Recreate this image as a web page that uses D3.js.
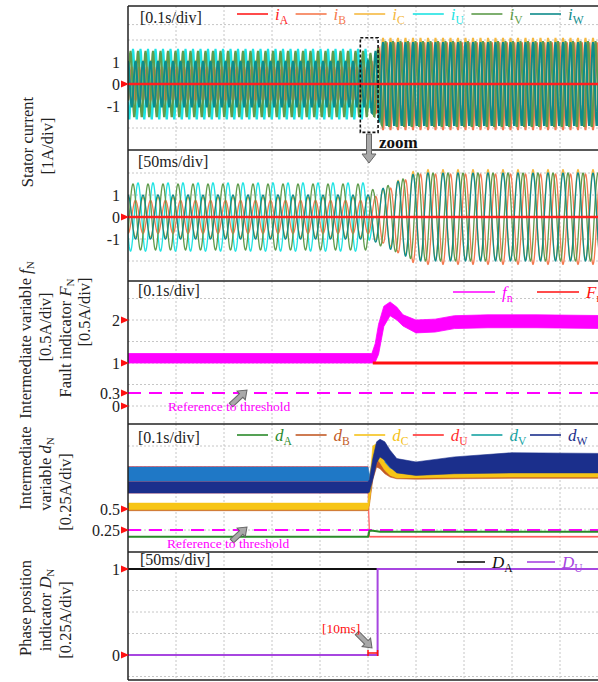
<!DOCTYPE html>
<html>
<head>
<meta charset="utf-8">
<script src="https://cdn.jsdelivr.net/npm/d3@7"></script>
<style>
  body { margin: 0; background: #fff; }
  svg { display: block; font-family: "Liberation Serif", "DejaVu Serif", serif; }
  .grid line { stroke: #c6c6c6; stroke-dasharray: 2,2; stroke-width: 1; }
  .ticks text { font-size: 16px; fill: #222; font-family: "Liberation Serif", serif; }
  .ticks .domain, .ticks line { display: none; }
  .scale-note { font-size: 16px; fill: #222; }
</style>
</head>
<body>
<div id="wrapper"></div>
<script>
// ---- stator currents (i_A ... i_W), overview at 0.1 s/div, zoom at 50 ms/div
const currentNames = ["A", "B", "C", "U", "V", "W"]
const currentColors = ["#ff1f1f", "#f57a4f", "#f5b942", "#1fe3e3", "#5e9c4c", "#0e8b8b"]
const currentPhaseDeg = [0, 180, 0, 120, 240, 0]
const currentOffsetAfter = [0, -0.1, 0.1, 0, 0, 0]
const supplyFreq = 64 // Hz
const drawOrder = [3, 2, 1, 4, 5, 0]

const overviewEnvTime = [0, 0.5, 0.506, 0.52, 0.53, 1.02] // s
const overviewEnvAmp = [
  [0, 0, 0, 0, 0, 0],
  [0.75, 0.75, 0.9, 1.5, 2.0, 2.0],
  [0.95, 0.95, 1.0, 1.5, 2.0, 2.0],
  [1.6, 1.6, 0.1, 0, 0, 0],
  [1.5, 1.5, 1.4, 1.6, 1.95, 1.95],
  [1.05, 1.05, 1.3, 1.6, 1.9, 1.9],
]
const zoomEnvTime = [0, 250, 256, 275, 300, 510] // ms
const zoomEnvAmp = [
  [0, 0, 0, 0, 0, 0],
  [0.75, 0.75, 0.9, 1.4, 2.05, 2.05],
  [0.9, 0.9, 1.0, 1.45, 2.05, 2.05],
  [1.55, 1.55, 0, 0, 0, 0],
  [1.5, 1.5, 1.2, 1.5, 2.0, 2.0],
  [1.0, 1.0, 1.1, 1.5, 2.0, 2.0],
]

// ---- intermediate variable f_n and fault indicator F_n
const fnTime = [0, 0.508, 0.515, 0.522, 0.533, 0.546, 0.56, 0.573, 0.6, 0.64, 0.68, 0.75, 0.85, 1.02]
const fnUpper = [1.22, 1.22, 1.45, 1.9, 2.32, 2.42, 2.3, 2.12, 2.0, 2.02, 2.1, 2.12, 2.12, 2.1]
const fnLower = [1.0, 1.0, 1.02, 1.2, 1.85, 2.1, 2.0, 1.86, 1.7, 1.72, 1.8, 1.82, 1.82, 1.8]
const FnTime = [0.51, 1.02]
const FnValue = [1, 1]
const fnThreshold = 0.3

// ---- intermediate variables d_A ... d_W
const dNames = ["A", "B", "C", "U", "V", "W"]
const dColors = ["#2a8a2a", "#c25a26", "#f5c21a", "#ff3030", "#16a3a3", "#1b2f8c"]
const dBandFill = ["#2a8a2a", "#c25a26", "#f7c516", "#ff4a4a", "#1f78c6", "#1b2f8c"]
const dTime = [0, 0.5, 0.503, 0.51, 0.518, 0.525, 0.535, 0.546, 0.56, 0.6, 0.68, 0.8, 1.02]
const dAValue = [0.17, 0.17, 0.24, 0.24, 0.235, 0.23, 0.23, 0.23, 0.23, 0.23, 0.23, 0.23, 0.23]
const dBUpper = [0.5, 0.5, 0.6, 0.95, 1.1, 1.05, 0.97, 0.92, 0.89, 0.88, 0.88, 0.89, 0.89]
const dBLower = [0.48, 0.48, 0.55, 0.85, 1.0, 0.98, 0.92, 0.88, 0.86, 0.855, 0.86, 0.865, 0.865]
const dCUpper = [0.57, 0.57, 0.8, 1.25, 1.28, 1.2, 1.05, 0.98, 0.95, 0.94, 0.95, 0.96, 0.96]
const dCLower = [0.49, 0.49, 0.56, 0.95, 1.1, 1.05, 0.96, 0.9, 0.87, 0.87, 0.875, 0.88, 0.88]
const dUUpper = [1.005, 1.005, 0.175, 0.175, 0.175, 0.175, 0.175, 0.175, 0.175, 0.175, 0.175, 0.175, 0.175]
const dULower = [0.69, 0.69, 0.165, 0.165, 0.165, 0.165, 0.165, 0.165, 0.165, 0.165, 0.165, 0.165, 0.165]
const dVUpper = [1.0, 1.0, 0.9, 1.1, 1.2, 1.2, 1.15, 1.1, 1.05, 1.02, 1.08, 1.1, 1.1]
const dVLower = [0.83, 0.83, 0.75, 0.9, 1.05, 1.05, 1.0, 0.98, 0.94, 0.93, 0.95, 0.96, 0.96]
const dWUpper = [0.82, 0.82, 0.85, 1.1, 1.3, 1.33, 1.3, 1.2, 1.1, 1.06, 1.12, 1.17, 1.16]
const dWLower = [0.69, 0.69, 0.7, 0.85, 1.05, 1.12, 1.08, 1.0, 0.93, 0.9, 0.92, 0.93, 0.93]
const dThreshold = 0.25

// ---- phase position indicators D_A, D_U (ms)
const DTime = [0, 260, 510]
const DAValue = [1, 1, 1]
const DUValue = [0, 1, 1]
const delayMarkMs = [250, 260]

// ---- tick labels / grid
const ticks1 = [-1, 0, 1], marks1 = [0], grid1 = [-2, -1, 0, 1, 2, 2.7]
const ticks2 = [-1, 0, 1], marks2 = [0], grid2 = [-2, -1, 0, 1, 2]
const ticks3 = [0, 0.3, 1, 2], marks3 = [0, 0.3, 1, 2], grid3 = [0, 0.5, 1, 1.5, 2, 2.5]
const ticks4 = [0.25, 0.5], marks4 = [0.25, 0.5], grid4 = [0.25, 0.5, 0.75, 1, 1.25]
const ticks5 = [0, 1], marks5 = [0, 1], grid5 = [-0.25, 0.25, 0.5, 0.75]

function drawChart() {
  // 2. Dimensions
  const dimensions = { width: 598, height: 682, left: 128, right: 608 }
  const panels = [
    { top: 6, bottom: 150 },
    { top: 150, bottom: 281 },
    { top: 281, bottom: 424 },
    { top: 424, bottom: 552 },
    { top: 552, bottom: 680 },
  ]

  // 3. Canvas
  const svg = d3.select("#wrapper").append("svg")
      .attr("width", dimensions.width)
      .attr("height", dimensions.height)
  const defs = svg.append("defs")
  panels.forEach((p, i) => {
    defs.append("clipPath").attr("id", `clip${i}`)
      .append("rect")
        .attr("x", dimensions.left).attr("y", p.top)
        .attr("width", dimensions.right - dimensions.left).attr("height", p.bottom - p.top)
  })

  // 4. Scales
  const xSec = d3.scaleLinear().domain([0, 1]).range([dimensions.left, dimensions.right])
  const xMs = d3.scaleLinear().domain([0, 500]).range([dimensions.left, dimensions.right])
  const y1 = d3.scaleLinear().domain([-1, 1]).range([106, 62])
  const y2 = d3.scaleLinear().domain([-1, 1]).range([239, 195])
  const y3 = d3.scaleLinear().domain([0, 2]).range([406, 320])
  const y4 = d3.scaleLinear().domain([0.25, 0.5]).range([530, 509])
  const y5 = d3.scaleLinear().domain([0, 1]).range([655, 569])
  const yScales = [y1, y2, y3, y4, y5]
  const grids = [grid1, grid2, grid3, grid4, grid5]

  // grid
  const gridG = svg.append("g").attr("class", "grid")
  panels.forEach((p, i) => {
    gridG.selectAll(null)
      .data(d3.range(1, 10))
      .join("line")
        .attr("x1", d => xSec(d / 10)).attr("x2", d => xSec(d / 10))
        .attr("y1", p.top).attr("y2", p.bottom)
    gridG.selectAll(null)
      .data(grids[i])
      .join("line")
        .attr("x1", dimensions.left).attr("x2", dimensions.right)
        .attr("y1", d => yScales[i](d)).attr("y2", d => yScales[i](d))
  })

  // 5. Draw data
  // stator currents
  const currentSeries = (k, times, envT, envAmp, faultT, settleT, toSec) => {
    const amp = d3.scaleLinear().domain(envT).range(envAmp[k])
    const off = d3.scaleLinear().domain([faultT, settleT])
        .range([0, currentOffsetAfter[k]]).clamp(true)
    const w = 2 * Math.PI * supplyFreq
    const phi = currentPhaseDeg[k] * Math.PI / 180
    return times.map(t => [t, amp(t) * Math.cos(w * t * toSec + phi) + off(t)])
  }

  const p1 = svg.append("g").attr("clip-path", "url(#clip0)")
  const t1 = d3.range(0, 1.02, 1 / 960)
  drawOrder.forEach(k => {
    const line = d3.line().x(d => xSec(d[0])).y(d => y1(d[1]))
    p1.append("path")
        .attr("d", line(currentSeries(k, t1, overviewEnvTime, overviewEnvAmp, 0.5, 0.53, 1)))
        .attr("fill", "none")
        .attr("stroke", currentColors[k])
        .attr("stroke-width", k == 0 ? 2.5 : 2)
  })

  const p2 = svg.append("g").attr("clip-path", "url(#clip1)")
  const t2 = d3.range(0, 510, 0.25)
  drawOrder.forEach(k => {
    const line = d3.line().x(d => xMs(d[0])).y(d => y2(d[1]))
    p2.append("path")
        .attr("d", line(currentSeries(k, t2, zoomEnvTime, zoomEnvAmp, 250, 300, 0.001)))
        .attr("fill", "none")
        .attr("stroke", currentColors[k])
        .attr("stroke-width", k == 0 ? 2.5 : 1.3)
  })

  // f_n band, F_n, threshold
  const p3 = svg.append("g").attr("clip-path", "url(#clip2)")
  p3.append("path")
      .attr("d", d3.area()
        .x(i => xSec(fnTime[i]))
        .y0(i => y3(fnLower[i]))
        .y1(i => y3(fnUpper[i]))(d3.range(fnTime.length)))
      .attr("fill", "#ff00ff")
      .attr("stroke", "#ff00ff")
      .attr("stroke-width", 0.8)
  p3.append("path")
      .attr("d", d3.line().x(i => xSec(FnTime[i])).y(i => y3(FnValue[i]))(d3.range(FnTime.length)))
      .attr("stroke", "#ff1010")
      .attr("stroke-width", 3)
      .attr("fill", "none")
  p3.append("line")
      .attr("x1", dimensions.left).attr("x2", dimensions.right)
      .attr("y1", y3(fnThreshold)).attr("y2", y3(fnThreshold))
      .attr("stroke", "#ff00ff").attr("stroke-width", 2)
      .attr("stroke-dasharray", "13,8")

  // d_N bands
  const p4 = svg.append("g").attr("clip-path", "url(#clip3)")
  const dBands = [
    { k: 3, up: dUUpper, lo: dULower },
    { k: 4, up: dVUpper, lo: dVLower },
    { k: 1, up: dBUpper, lo: dBLower },
    { k: 2, up: dCUpper, lo: dCLower },
    { k: 5, up: dWUpper, lo: dWLower },
  ]
  dBands.forEach(b => {
    p4.append("path")
        .attr("d", d3.area()
          .x(i => xSec(dTime[i]))
          .y0(i => y4(b.lo[i]))
          .y1(i => y4(b.up[i]))(d3.range(dTime.length)))
        .attr("fill", dBandFill[b.k])
        .attr("stroke", dBandFill[b.k])
        .attr("stroke-width", 0.6)
  })
  p4.append("line")
      .attr("x1", dimensions.left).attr("x2", dimensions.right)
      .attr("y1", y4(dThreshold)).attr("y2", y4(dThreshold))
      .attr("stroke", "#ff00ff").attr("stroke-width", 2)
      .attr("stroke-dasharray", "13,8")
  p4.append("path")
      .attr("d", d3.line().x(i => xSec(dTime[i])).y(i => y4(dAValue[i]))(d3.range(dTime.length)))
      .attr("fill", "none")
      .attr("stroke", dColors[0])
      .attr("stroke-width", 2)

  // D_A, D_U
  const p5 = svg.append("g").attr("clip-path", "url(#clip4)")
  const stepLine = d3.line().curve(d3.curveStepAfter)
  p5.append("path")
      .attr("d", stepLine.x(i => xMs(DTime[i])).y(i => y5(DAValue[i]))(d3.range(DTime.length)))
      .attr("fill", "none").attr("stroke", "#111").attr("stroke-width", 2)
  p5.append("path")
      .attr("d", stepLine.x(i => xMs(DTime[i])).y(i => y5(DUValue[i]))(d3.range(DTime.length)))
      .attr("fill", "none").attr("stroke", "#a746e0").attr("stroke-width", 2)

  // 6. Peripherals
  // frame
  const frame = svg.append("g").attr("stroke", "#222").attr("stroke-width", 1.5)
  frame.append("line")
      .attr("x1", dimensions.left).attr("x2", dimensions.left)
      .attr("y1", panels[0].top).attr("y2", panels[4].bottom)
  frame.selectAll(null)
    .data([panels[0].top, ...panels.map(p => p.bottom)])
    .join("line")
      .attr("x1", dimensions.left).attr("x2", dimensions.right)
      .attr("y1", d => d).attr("y2", d => d)

  // tick labels and red markers
  const tickSets = [ticks1, ticks2, ticks3, ticks4, ticks5]
  const markSets = [marks1, marks2, marks3, marks4, marks5]
  yScales.forEach((y, i) => {
    svg.append("g")
        .attr("class", "ticks")
        .attr("transform", `translate(${dimensions.left - 8},0)`)
        .call(d3.axisLeft(y).tickValues(tickSets[i]).tickSize(0).tickPadding(0)
          .tickFormat(d => d < 0 ? `-${Math.abs(d)}` : `${d}`))
    svg.selectAll(null)
      .data(markSets[i])
      .join("path")
        .attr("d", d => `M${dimensions.left - 7},${y(d) - 3.5}L${dimensions.left + 1},${y(d)}L${dimensions.left - 7},${y(d) + 3.5}Z`)
        .attr("fill", "#ff1010")
  })

  // time/div notes
  const notes = [["[0.1s/div]", 140, 23], ["[50ms/div]", 138, 167], ["[0.1s/div]", 138, 296],
    ["[0.1s/div]", 138, 443], ["[50ms/div]", 140, 565]]
  svg.selectAll(null)
    .data(notes)
    .join("text")
      .attr("class", "scale-note")
      .attr("x", d => d[1]).attr("y", d => d[2])
      .text(d => d[0])

  // legends
  function drawLegend(items, startX, step, lineLen, y, fontSize) {
    const g = svg.append("g")
    items.forEach((it, i) => {
      const x0 = startX + i * step
      g.append("line")
          .attr("x1", x0).attr("x2", x0 + lineLen)
          .attr("y1", y).attr("y2", y)
          .attr("stroke", it.color).attr("stroke-width", 1.6)
      const t = g.append("text")
          .attr("x", x0 + lineLen + 7).attr("y", y + 6)
          .attr("fill", it.color)
          .style("font-size", `${fontSize}px`)
      t.append("tspan").style("font-style", "italic").text(it.name)
      t.append("tspan").attr("dy", 4).style("font-size", `${fontSize * 0.68}px`).text(it.sub)
    })
  }
  drawLegend(currentNames.map((n, i) => ({ name: "i", sub: n, color: currentColors[i] })),
    237, 58.6, 31, 14, 17)
  drawLegend([{ name: "f", sub: "n", color: "#ff00ff" }, { name: "F", sub: "n", color: "#ff1010" }],
    453, 84, 42, 292, 17)
  drawLegend(dNames.map((n, i) => ({ name: "d", sub: n, color: dColors[i] })),
    237, 58.6, 31, 435, 17)
  drawLegend([{ name: "D", sub: "A", color: "#111" }, { name: "D", sub: "U", color: "#a746e0" }],
    457, 70, 28, 562, 17)

  // zoom box and arrows
  svg.append("rect")
      .attr("x", xSec(0.484)).attr("y", y1(2.1))
      .attr("width", xSec(0.521) - xSec(0.484))
      .attr("height", y1(-2.2) - y1(2.1))
      .attr("fill", "none").attr("stroke", "#111")
      .attr("stroke-width", 1.6).attr("stroke-dasharray", "3,2")

  function blockArrow(x1, yA, x2, yB, shaftW, headW, headL) {
    const ang = Math.atan2(yB - yA, x2 - x1)
    const len = Math.hypot(x2 - x1, yB - yA)
    const pts = [[0, -shaftW / 2], [len - headL, -shaftW / 2], [len - headL, -headW / 2], [len, 0],
      [len - headL, headW / 2], [len - headL, shaftW / 2], [0, shaftW / 2]]
    svg.append("path")
        .attr("d", d3.line()(pts) + "Z")
        .attr("transform", `translate(${x1},${yA}) rotate(${ang * 180 / Math.PI})`)
        .attr("fill", "#a9a9a9").attr("stroke", "#666").attr("stroke-width", 1)
  }
  blockArrow(369, 134, 369, 163, 5, 14, 9)
  blockArrow(231, 405, 247, 390, 5, 12, 8)
  blockArrow(232, 541, 247, 527, 5, 12, 8)
  blockArrow(357, 633, 372, 648, 5, 12, 8)

  svg.append("text")
      .attr("x", 379).attr("y", 148)
      .style("font-size", "17px").style("font-weight", "bold").attr("fill", "#111")
      .text("zoom")

  svg.selectAll(null)
    .data([[168, 411], [167, 548]])
    .join("text")
      .attr("x", d => d[0]).attr("y", d => d[1])
      .attr("fill", "#ff00ff").style("font-size", "13.5px")
      .text("Reference to threshold")

  // 10 ms mark
  const markY = y5(0) - 2
  svg.append("path")
      .attr("d", `M${xMs(delayMarkMs[0])},${markY - 3}V${markY + 3}M${xMs(delayMarkMs[0])},${markY}H${xMs(delayMarkMs[1])}M${xMs(delayMarkMs[1])},${markY - 3}V${markY + 3}`)
      .attr("stroke", "#ff1010").attr("stroke-width", 1.5).attr("fill", "none")
  svg.append("text")
      .attr("x", 322).attr("y", 633)
      .attr("fill", "#ff1010").style("font-size", "13.5px")
      .text("[10ms]")

  // rotated axis titles
  const titles = [
    [27, 142, [["Stator current"]]],
    [47, 146, [["[1A/div]"]]],
    [25, 340, [["Intermediate variable "], ["f", "i"], ["N", "s"]]],
    [45, 327, [["[0.5A/div]"]]],
    [65, 338, [["Fault indicator "], ["F", "i"], ["N", "s"]]],
    [84, 312, [["[0.5A/div]"]]],
    [25, 468, [["Intermediate"]]],
    [45, 474, [["variable "], ["d", "i"], ["N", "s"]]],
    [65, 492, [["[0.25A/div]"]]],
    [25, 608, [["Phase position"]]],
    [45, 610, [["indicator "], ["D", "i"], ["N", "s"]]],
    [65, 620, [["[0.25A/div]"]]],
  ]
  titles.forEach(([x, y, parts]) => {
    const t = svg.append("text")
        .attr("transform", `translate(${x},${y}) rotate(-90)`)
        .attr("text-anchor", "middle")
        .attr("dy", "0.35em")
        .attr("fill", "#222")
        .style("font-size", "16.5px")
    parts.forEach(([s, kind]) => {
      const ts = t.append("tspan").text(s)
      if (kind == "i") ts.style("font-style", "italic")
      if (kind == "s") ts.style("font-size", "11px").attr("dy", 3)
    })
  })
}
drawChart()
</script>
</body>
</html>
